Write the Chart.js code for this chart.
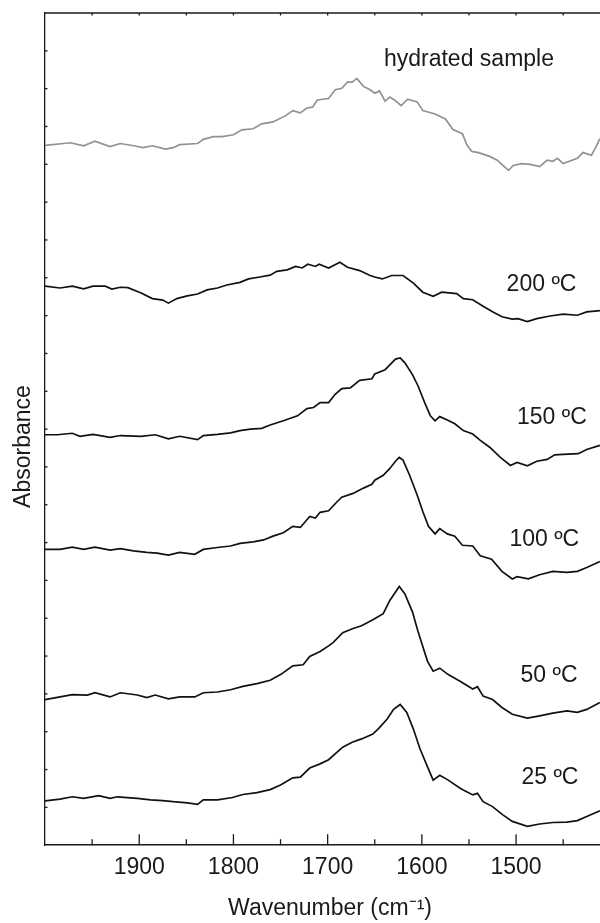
<!DOCTYPE html>
<html>
<head>
<meta charset="utf-8">
<script src="https://cdn.jsdelivr.net/npm/chart.js@4.4.0/dist/chart.umd.min.js"></script>
<style>
  html, body { margin: 0; padding: 0; background: #fff; overflow: hidden; }
  /* the figure's frame runs a little past the right edge of the page, as in the source */
  #wrap { width: 615px; height: 923px; position: relative; }
</style>
</head>
<body>
<div id="wrap"><canvas id="ftir"></canvas></div>
<script>
// FTIR spectra, wavenumber (cm-1) and stacked absorbance (a.u.)
var wnHydrated = [2000,1973,1959,1947,1931,1920,1906,1896,1886,1872,1864,1857,1838,1832,1821,1812,1800,1791,1779,1770,1758,1745,1737,1729,1722,1716,1711,1699,1692,1685,1679,1674,1669,1662,1655,1650,1645,1639,1634,1628,1622,1615,1605,1599,1586,1575,1567,1557,1552,1547,1540,1528,1520,1514,1508,1503,1494,1485,1475,1467,1461,1456,1450,1435,1429,1420,1416,1411];
var absHydrated = [18.50,18.57,18.49,18.61,18.47,18.55,18.49,18.44,18.49,18.40,18.44,18.52,18.55,18.66,18.73,18.73,18.78,18.91,18.94,19.07,19.12,19.28,19.42,19.36,19.49,19.51,19.70,19.74,19.97,20.01,20.17,20.17,20.27,20.06,19.97,19.88,19.94,19.67,19.78,19.68,19.55,19.72,19.65,19.42,19.33,19.20,18.92,18.81,18.50,18.34,18.31,18.21,18.11,17.97,17.84,17.97,18.02,18.00,17.94,18.11,18.08,18.16,18.02,18.16,18.31,18.24,18.42,18.68];

var wn200 = [2000,1984,1971,1959,1949,1936,1929,1920,1912,1898,1886,1875,1869,1860,1849,1838,1828,1817,1807,1793,1784,1772,1761,1754,1743,1734,1727,1721,1713,1709,1699,1687,1679,1666,1655,1650,1642,1632,1620,1609,1599,1588,1579,1563,1556,1546,1535,1525,1515,1504,1498,1488,1478,1464,1450,1435,1425,1411];
var abs200 = [14.78,14.73,14.78,14.71,14.78,14.78,14.70,14.75,14.74,14.60,14.45,14.41,14.33,14.45,14.52,14.57,14.68,14.73,14.81,14.88,14.97,15.02,15.07,15.17,15.21,15.30,15.26,15.36,15.30,15.36,15.26,15.41,15.28,15.19,15.06,15.02,14.97,15.06,15.06,14.86,14.62,14.51,14.62,14.58,14.45,14.42,14.25,14.10,13.97,13.91,13.92,13.84,13.92,13.99,14.04,14.01,14.10,14.13];

var wn150 = [2000,1987,1971,1963,1949,1931,1920,1898,1883,1869,1857,1838,1832,1817,1803,1793,1782,1770,1761,1747,1732,1722,1715,1708,1699,1692,1685,1676,1666,1653,1650,1639,1634,1628,1623,1618,1610,1604,1597,1591,1586,1581,1573,1565,1556,1546,1538,1528,1517,1506,1499,1488,1478,1467,1459,1450,1434,1425,1411];
var abs150 = [10.85,10.85,10.89,10.81,10.86,10.78,10.83,10.81,10.85,10.74,10.81,10.72,10.83,10.86,10.90,10.96,11.00,11.02,11.11,11.22,11.35,11.54,11.57,11.70,11.70,11.92,12.07,12.09,12.29,12.33,12.46,12.57,12.70,12.85,12.88,12.75,12.44,12.14,11.70,11.35,11.22,11.33,11.24,11.14,10.96,10.87,10.70,10.52,10.26,10.04,10.12,10.03,10.15,10.20,10.32,10.33,10.35,10.46,10.57];

var wn100 = [2000,1984,1971,1959,1947,1931,1920,1906,1892,1881,1869,1857,1841,1832,1817,1803,1793,1779,1768,1758,1747,1737,1729,1719,1713,1708,1699,1690,1685,1673,1662,1653,1650,1641,1634,1628,1624,1620,1613,1605,1599,1593,1586,1581,1573,1565,1557,1546,1538,1526,1515,1504,1499,1487,1475,1461,1446,1435,1425,1411];
var abs100 = [7.82,7.82,7.88,7.82,7.88,7.80,7.84,7.78,7.74,7.72,7.67,7.74,7.69,7.82,7.87,7.91,7.98,8.02,8.07,8.17,8.26,8.43,8.40,8.69,8.65,8.80,8.84,9.08,9.20,9.30,9.44,9.54,9.65,9.78,9.96,10.15,10.25,10.18,9.78,9.26,8.82,8.43,8.23,8.37,8.23,8.17,7.93,7.91,7.65,7.56,7.24,7.04,7.10,7.04,7.15,7.24,7.21,7.24,7.34,7.50];

var wn50 = [2000,1984,1971,1955,1947,1931,1920,1902,1892,1883,1869,1857,1841,1832,1817,1803,1790,1775,1761,1750,1737,1726,1719,1708,1699,1694,1684,1673,1664,1652,1641,1634,1624,1618,1610,1604,1594,1588,1581,1572,1559,1546,1541,1535,1525,1515,1504,1488,1475,1461,1446,1435,1425,1411];
var abs50 = [3.85,3.92,3.98,3.97,4.03,3.92,4.03,3.97,3.90,3.97,3.87,3.92,3.92,4.03,4.05,4.11,4.20,4.27,4.36,4.51,4.74,4.77,4.99,5.12,5.27,5.36,5.62,5.73,5.80,5.96,6.12,6.47,6.84,6.64,6.17,5.64,4.86,4.60,4.68,4.51,4.33,4.13,4.19,3.94,3.85,3.64,3.46,3.36,3.42,3.49,3.55,3.51,3.59,3.77];

var wn25 = [2000,1984,1971,1959,1943,1931,1923,1902,1888,1875,1864,1849,1838,1832,1817,1801,1790,1775,1761,1750,1737,1729,1719,1708,1699,1684,1674,1664,1652,1645,1637,1630,1623,1616,1609,1602,1594,1588,1581,1572,1559,1546,1541,1535,1525,1514,1504,1488,1475,1461,1446,1435,1425,1411];
var abs25 = [1.17,1.22,1.28,1.24,1.31,1.24,1.28,1.24,1.20,1.18,1.15,1.12,1.08,1.20,1.20,1.26,1.34,1.39,1.47,1.59,1.78,1.80,2.04,2.15,2.26,2.59,2.72,2.81,2.94,3.11,3.33,3.59,3.72,3.51,3.07,2.55,2.07,1.72,1.85,1.72,1.50,1.33,1.37,1.15,1.02,0.80,0.63,0.50,0.56,0.60,0.61,0.65,0.76,0.91];

var curveNames = ["hydrated sample", "200 ºC", "150 ºC", "100 ºC", "50 ºC", "25 ºC"];
var xTickLabels = [1900, 1800, 1700, 1600, 1500];

var FONT = '"Liberation Sans", Arial, Helvetica, sans-serif';
var INK = '#1a1a1a';

function pairs(wn, ab) {
    return wn.map(function(w, i) { return {x: w, y: ab[i]}; });
}

var spectra = [
    {wn: wnHydrated, abs: absHydrated, color: '#929292'},
    {wn: wn200, abs: abs200, color: '#111'},
    {wn: wn150, abs: abs150, color: '#111'},
    {wn: wn100, abs: abs100, color: '#111'},
    {wn: wn50, abs: abs50, color: '#111'},
    {wn: wn25, abs: abs25, color: '#111'}
];

// where each curve name sits, in data units (wavenumber, absorbance)
var nameSpots = [[1550, 20.76], [1473, 14.83], [1462, 11.31], [1470, 8.08], [1465, 4.47], [1464, 1.78]];

// inward tick marks, top frame line, curve names and the y title
var framePlugin = {
    id: 'frame',
    afterDraw: function(chart) {
        var ctx = chart.ctx, a = chart.chartArea;
        var xs = chart.scales.x, ys = chart.scales.y;
        ctx.save();
        ctx.strokeStyle = INK;
        ctx.lineWidth = 1.3;
        function seg(x1, y1, x2, y2) {
            ctx.beginPath(); ctx.moveTo(x1, y1); ctx.lineTo(x2, y2); ctx.stroke();
        }
        seg(a.left, a.top, a.right, a.top);
        for (var w = 1400; w <= 1950; w += 50) {
            var px = xs.getPixelForValue(w);
            seg(px, a.bottom, px, a.bottom - (w % 100 === 0 ? 11 : 6));
            seg(px, a.top, px, a.top + 2.5);
        }
        for (var k = ys.min + 1; k < ys.max; k++) {
            var py = ys.getPixelForValue(k);
            seg(a.left, py, a.left + 2.5, py);
        }

        ctx.fillStyle = INK;
        ctx.font = '23px ' + FONT;
        ctx.textAlign = 'center';
        ctx.textBaseline = 'middle';
        curveNames.forEach(function(name, i) {
            ctx.fillText(name, xs.getPixelForValue(nameSpots[i][0]), ys.getPixelForValue(nameSpots[i][1]));
        });

        ctx.translate(24, ys.getPixelForValue(10.54));
        ctx.rotate(-Math.PI / 2);
        ctx.fillText('Absorbance', 0, 0);
        ctx.restore();
    }
};

new Chart(document.getElementById('ftir'), {
    type: 'line',
    data: {
        datasets: spectra.map(function(s, i) {
            return {
                label: curveNames[i],
                data: pairs(s.wn, s.abs),
                borderColor: s.color,
                borderWidth: 1.7,
                pointRadius: 0,
                tension: 0,
                fill: false
            };
        })
    },
    options: {
        responsive: true,
        maintainAspectRatio: false,
        animation: false,
        layout: { padding: { left: 45, top: 13, right: 0, bottom: 0 } },
        plugins: { legend: { display: false }, tooltip: { enabled: false } },
        scales: {
            x: {
                type: 'linear',
                reverse: true,
                min: 1395,
                max: 2000,
                afterBuildTicks: function(axis) {
                    axis.ticks = xTickLabels.map(function(v) { return {value: v}; });
                },
                grid: { display: false, drawTicks: false },
                border: { display: true, color: INK, width: 1.5 },
                ticks: {
                    autoSkip: false,
                    maxRotation: 0,
                    padding: 9,
                    color: INK,
                    font: { family: FONT, size: 23 },
                    callback: function(v) { return String(v); }
                },
                title: {
                    display: true,
                    text: 'Wavenumber (cm⁻¹)',
                    color: INK,
                    font: { family: FONT, size: 23 },
                    padding: { top: 4.4, bottom: 0.2 }
                }
            },
            y: {
                type: 'linear',
                min: 0,
                max: 22,
                grid: { display: false, drawTicks: false },
                border: { display: true, color: INK, width: 1.3 },
                ticks: { display: false },
                title: { display: false }
            }
        }
    },
    plugins: [framePlugin]
});
</script>
</body>
</html>
